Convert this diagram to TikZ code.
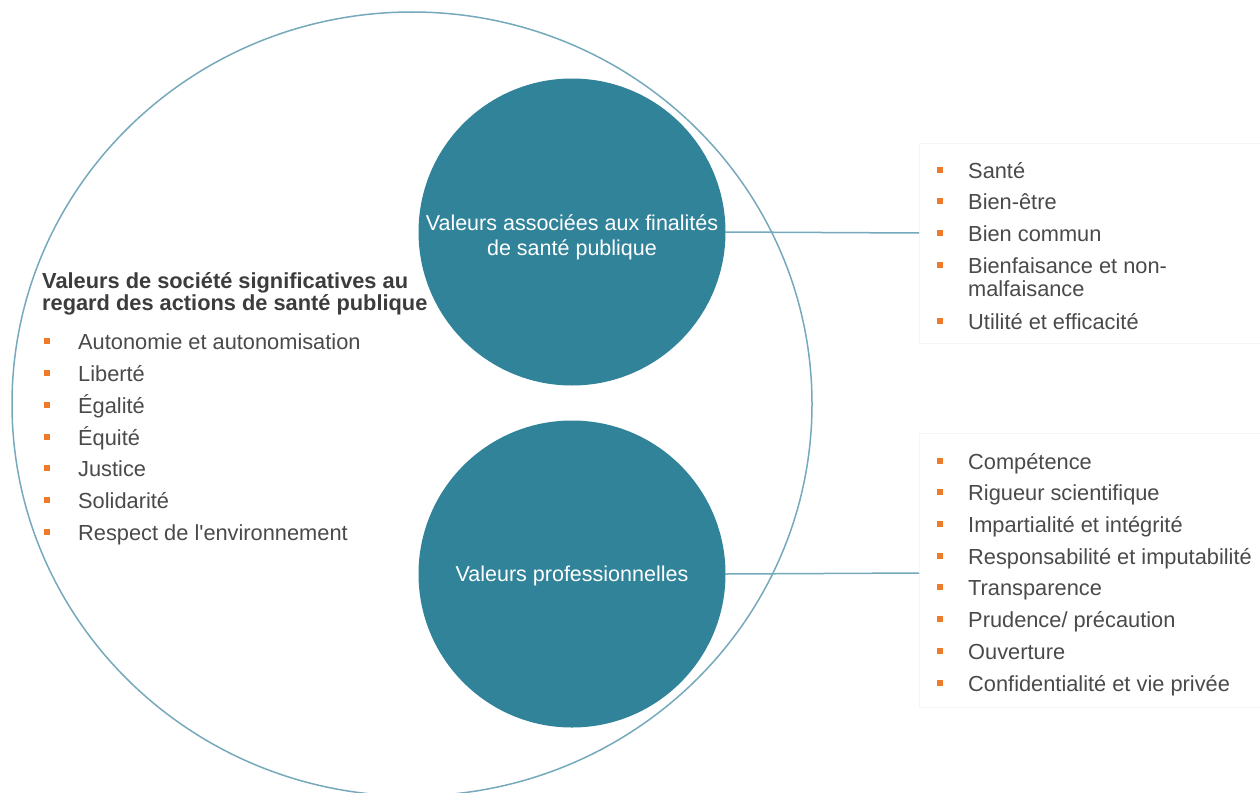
\documentclass[tikz,border=0pt]{standalone}
\usepackage{fontspec}
\setmainfont{Liberation Sans}[Ligatures=TeXOff]
\usetikzlibrary{shapes.geometric}
\definecolor{tealc}{HTML}{31839A}
\definecolor{outl}{HTML}{76A9BC}
\definecolor{orng}{HTML}{EE7A2A}
\definecolor{txt}{HTML}{4A4A4A}
\definecolor{head}{HTML}{3C3C3C}
\begin{document}
\begin{tikzpicture}[x=1pt,y=-1pt,
  item/.style={anchor=base west, inner sep=0pt, font=\fontsize{21.8}{23}\selectfont, text=txt, align=left},
  headtxt/.style={anchor=base west, inner sep=0pt, font=\fontsize{21.8}{22}\selectfont\bfseries, text=head},
  ctxt/.style={anchor=base, inner sep=0pt, font=\fontsize{21.5}{23}\selectfont, text=white},
  bul/.style={fill=orng, minimum size=6pt, inner sep=0pt},
  bigc/.style={draw=outl, line width=1.5pt, ellipse, inner sep=0pt, minimum width=800pt, minimum height=784pt},
  smallc/.style={circle, fill=tealc, inner sep=0pt, minimum size=307pt},
  conn/.style={draw=outl, line width=1.5pt},
  listbox/.style={draw=black!4, fill=white, line width=0.8pt}]
\useasboundingbox (0,0) rectangle (1260,792);
\fill[white] (0,0) rectangle (1260,792);

% faint list boxes
\node[listbox, anchor=north west, minimum width=345pt, minimum height=200pt, inner sep=0pt] (boxA) at (919,143) {};
\node[listbox, anchor=north west, minimum width=345pt, minimum height=274pt, inner sep=0pt] (boxB) at (919,433) {};

% big circle
\node[bigc] (bc) at (412,404) {};

% small circles
\node[smallc] (c1) at (572,232) {};
\node[smallc] (c2) at (572,574) {};
\node[ctxt] (t1a) at (572,230) {Valeurs associées aux finalités};
\node[ctxt] (t1b) at (572,255) {de santé publique};
\node[ctxt] (t2) at (572,581) {Valeurs professionnelles};

% connectors
\coordinate (e1) at (919,233);
\coordinate (e2) at (919,573);
\draw[conn] (c1.east) -- (e1);
\draw[conn] (c2.east) -- (e2);

% left heading
\node[headtxt] (h1) at (42,288) {Valeurs de société significatives au};
\node[headtxt] (h2) at (42,310) {regard des actions de santé publique};

% left list
\foreach \y/\t [count=\i] in {341/Autonomie et autonomisation, 373/Liberté, 405/Égalité, 437/Équité, 468/Justice, 500/Solidarité, 532/Respect de l'environnement}{
  \node[bul] (lb\i) at (47,\y) {};
  \node[item] (lt\i) at (78,\y+8) {\t};
}

% right top list
\foreach \y/\t [count=\i] in {170/Santé, 201/Bien-être, 233/Bien commun, 265/Bienfaisance et non-, 321/Utilité et efficacité}{
  \node[bul] (ab\i) at (940,\y) {};
  \node[item] (at\i) at (968,\y+8) {\t};
}
\node[item] (at6) at (968,296) {malfaisance};

% right bottom list
\foreach \y/\t [count=\i] in {461/Compétence, 492/Rigueur scientifique, 524/Impartialité et intégrité, 556/Responsabilité et imputabilité, 587/Transparence, 619/{Prudence/ précaution}, 651/Ouverture, 683/Confidentialité et vie privée}{
  \node[bul] (bb\i) at (940,\y) {};
  \node[item] (bt\i) at (968,\y+8) {\t};
}
\end{tikzpicture}
\end{document}
